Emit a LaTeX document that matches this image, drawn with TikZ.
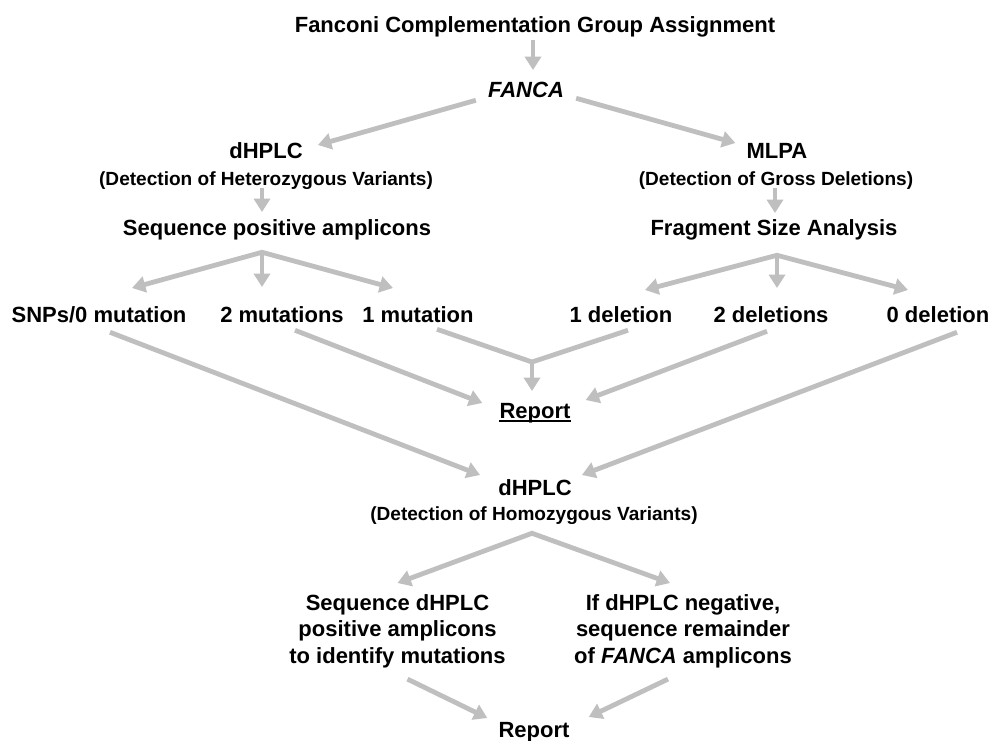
\documentclass[tikz,border=0pt]{standalone}
\usepackage{fontspec}
\setmainfont{Liberation Sans}
\usetikzlibrary{arrows.meta}
\definecolor{flowgray}{RGB}{191,191,191}

\begin{document}
\begin{tikzpicture}[
  x=0.75pt, y=-0.75pt,
  every node/.style={inner sep=0pt, font=\bfseries\fontsize{16.5}{19.9}\selectfont},
  stage/.style={anchor=base, text height=11.8pt, text depth=0pt},
  note/.style={anchor=base, text height=10.2pt, text depth=0pt, font=\bfseries\fontsize{14.3}{17}\selectfont},
  block/.style={anchor=north, align=center},
  feed/.style={draw=flowgray, line width=3.6pt},
  flow/.style={feed, -{Triangle[length=10pt, width=12pt]}},
  fork/.style={feed, {Triangle[length=10pt, width=12pt]}-{Triangle[length=10pt, width=12pt]}}
]
  \useasboundingbox (0,0) rectangle (999,740);

  \node[stage] (title) at (535,32) {Fanconi Complementation Group Assignment};
  \node[stage] (fanca) at (526,97) {\textit{FANCA}};
  \node[stage] (hetdhplc) at (266,158) {dHPLC};
  \node[note] (hetnote) at (266,185) {(Detection of Heterozygous Variants)};
  \node[stage] (mlpa) at (777,158) {MLPA};
  \node[note] (gdnote) at (776,185) {(Detection of Gross Deletions)};
  \node[stage] (seqpos) at (277,235) {Sequence positive amplicons};
  \node[stage] (fragsize) at (774,235) {Fragment Size Analysis};

  % outcomes of both screens
  \node[stage] (snp) at (99,322) {SNPs/0 mutation};
  \node[stage] (mut2) at (282,322) {2 mutations};
  \node[stage] (mut1) at (418,322) {1 mutation};
  \node[stage] (del1) at (621,322) {1 deletion};
  \node[stage] (del2) at (771,322) {2 deletions};
  \node[stage] (del0) at (938,322) {0 deletion};

  \node[stage] (report) at (535,418) {Report};
  \node[stage] (homdhplc) at (535,495) {dHPLC};
  \node[note] (homnote) at (534,520) {(Detection of Homozygous Variants)};
  \node[block] (seqhom) at (397.5,594) {Sequence dHPLC\\positive amplicons\\to identify mutations};
  \node[block] (negseq) at (683,594) {If dHPLC negative,\\sequence remainder\\of \textit{FANCA} amplicons};
  \node[stage] (final) at (534,737) {Report};

  \draw[line width=1.2pt] ([shift={(0,2.5)}]report.south west) -- ([shift={(0,2.5)}]report.south east);

  \draw[flow] ([shift={(-2,8)}]title.south) -- ([shift={(7,-11)}]fanca.north);
  \draw[flow] ([shift={(-12,3)}]fanca.south west) -- ([shift={(15,3)}]hetdhplc.north east);
  \draw[flow] ([shift={(12,1)}]fanca.south east) -- ([shift={(-11,1)}]mlpa.north west);
  \draw[flow] ([shift={(-4,3)}]hetnote.south) -- ([shift={(-15,-7)}]seqpos.north);
  \draw[flow] ([shift={(-1,3)}]gdnote.south) -- ([shift={(1,-6)}]fragsize.north);

  % forks
  \coordinate (seqfork) at ([shift={(-15,17)}]seqpos.south);
  \coordinate (fragfork) at ([shift={(3,20)}]fragsize.south);
  \draw[fork] ([shift={(33,-18)}]snp.north) -- (seqfork) -- ([shift={(-25,-18)}]mut1.north);
  \draw[flow] (seqfork) -- ([shift={(-20,-19)}]mut2.north);
  \draw[fork] ([shift={(24,-16)}]del1.north) -- (fragfork) -- ([shift={(-30,-16)}]del0.north);
  \draw[flow] (fragfork) -- ([shift={(6,-18)}]del2.north);

  % into the first report
  \coordinate (merge) at ([shift={(-3,-40)}]report.north);
  \draw[feed] ([shift={(19,7)}]mut1.south) -- (merge) -- ([shift={(7,8)}]del1.south);
  \draw[flow] (merge) -- ([shift={(-3,-11)}]report.north);
  \draw[flow] ([shift={(13,8)}]mut2.south) -- ([shift={(-17,1)}]report.north west);
  \draw[flow] ([shift={(-4,9)}]del2.south) -- ([shift={(15,-2)}]report.north east);

  % second dHPLC
  \draw[flow] ([shift={(11,10)}]snp.south) -- ([shift={(-18,-4)}]homdhplc.north west);
  \draw[flow] ([shift={(19,10)}]del0.south) -- ([shift={(10,-4)}]homdhplc.north east);
  \coordinate (homfork) at ([shift={(-2,13)}]homnote.south);
  \draw[fork] ([shift={(0,-11)}]seqhom.north) -- (homfork) -- ([shift={(-13,-11)}]negseq.north);
  \draw[flow] ([shift={(10,11)}]seqhom.south) -- ([shift={(-11,-3)}]final.north west);
  \draw[flow] ([shift={(-15,11)}]negseq.south) -- ([shift={(19,-4)}]final.north east);
\end{tikzpicture}
\end{document}
